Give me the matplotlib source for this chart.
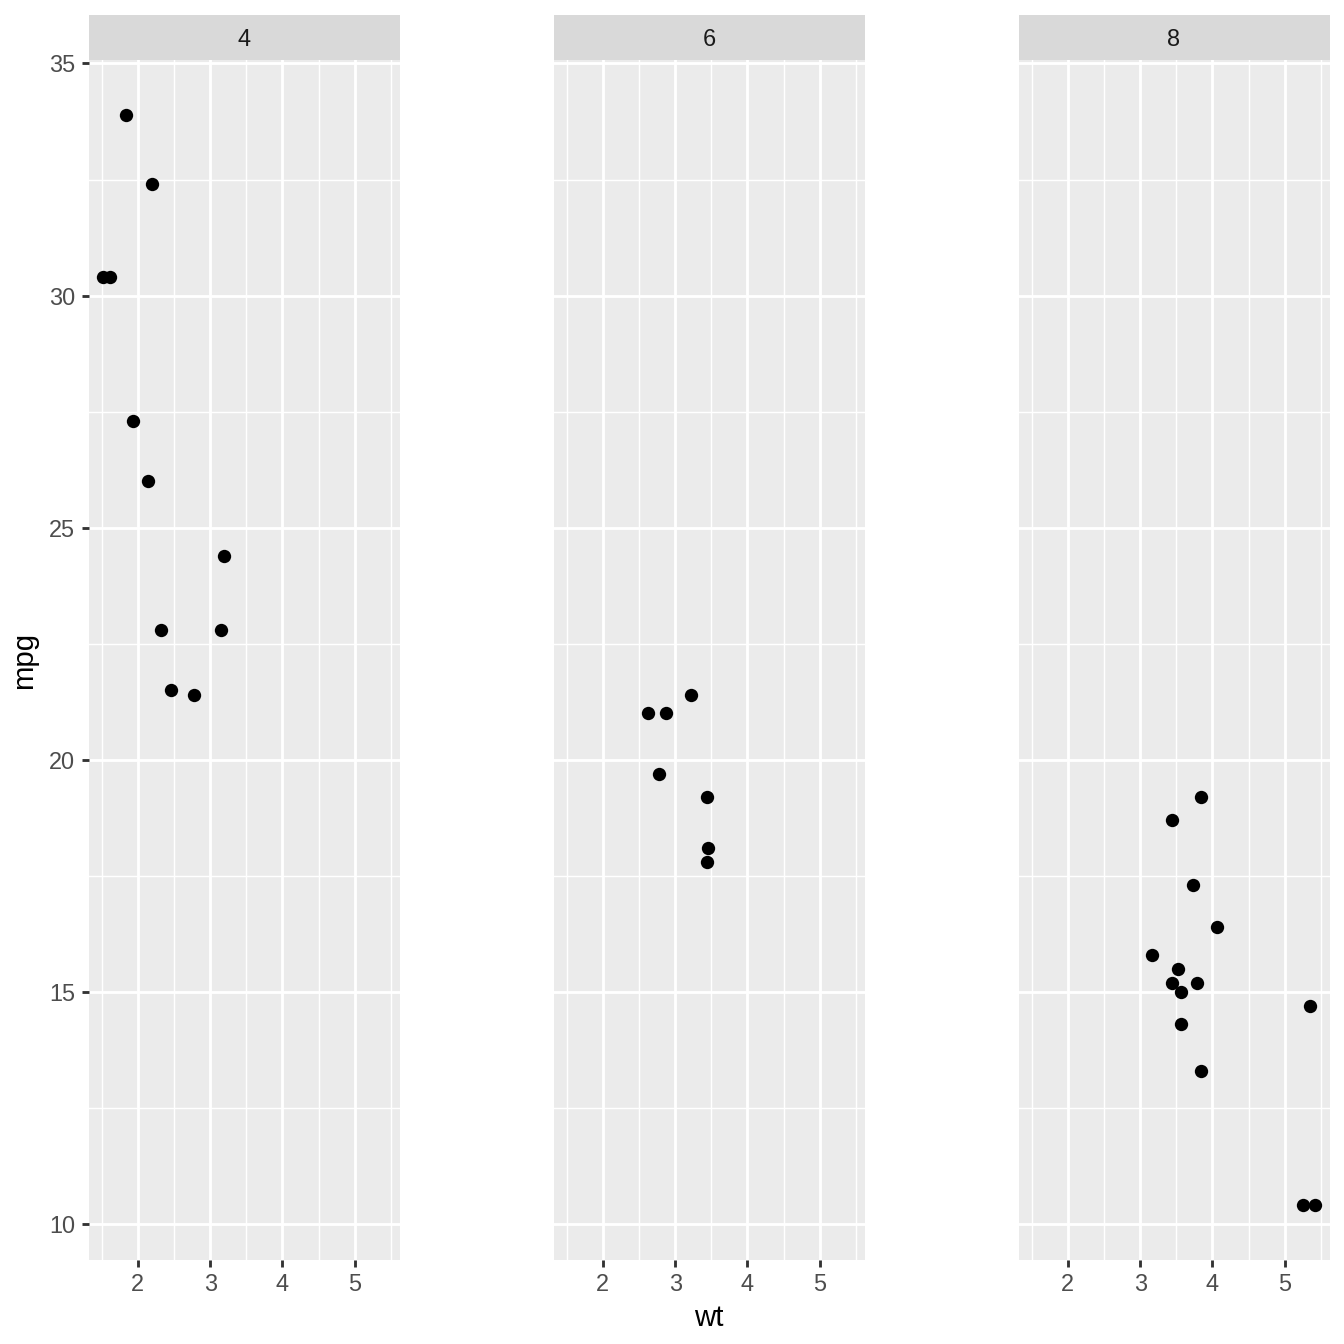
import numpy as np
import matplotlib
matplotlib.use('Agg')
from matplotlib import pyplot as plt

plt.rcParams['font.family'] = ['Liberation Sans', 'DejaVu Sans']

# mtcars, split by cyl
cyl_levels = ['4', '6', '8']
wt_4 = [2.320, 3.190, 3.150, 2.200, 1.615, 1.835, 2.465, 1.935, 2.140, 1.513, 2.780]
mpg_4 = [22.8, 24.4, 22.8, 32.4, 30.4, 33.9, 21.5, 27.3, 26.0, 30.4, 21.4]
wt_6 = [2.620, 2.875, 3.215, 3.460, 3.440, 3.440, 2.770]
mpg_6 = [21.0, 21.0, 21.4, 18.1, 19.2, 17.8, 19.7]
wt_8 = [3.440, 3.570, 4.070, 3.730, 3.780, 5.250, 5.424, 5.345, 3.520, 3.435, 3.840, 3.845, 3.170, 3.570]
mpg_8 = [18.7, 14.3, 16.4, 17.3, 15.2, 10.4, 10.4, 14.7, 15.5, 15.2, 13.3, 19.2, 15.8, 15.0]

x_ticks = [2, 3, 4, 5]
x_minor = [1.5, 2.5, 3.5, 4.5, 5.5]
y_ticks = [10, 15, 20, 25, 30, 35]
y_minor = [12.5, 17.5, 22.5, 27.5, 32.5]

groups = [(wt_4, mpg_4), (wt_6, mpg_6), (wt_8, mpg_8)]
all_wt = wt_4 + wt_6 + wt_8
all_mpg = mpg_4 + mpg_6 + mpg_8

def expand(vals):
    lo, hi = min(vals), max(vals)
    pad = (hi - lo) * 0.05
    return lo - pad, hi + pad

xlim = expand(all_wt)
ylim = expand(all_mpg)

W = 1344.0
fig = plt.figure(figsize=(7, 7), dpi=192)

lefts = [88.5, 553.5, 1018.5]
pw = 311.0
top, bottom = 60.0, 1260.0
strip_top = 15.0

for i, (lab, (wt, mpg)) in enumerate(zip(cyl_levels, groups)):
    ax = fig.add_axes([lefts[i] / W, (W - bottom) / W, pw / W, (bottom - top) / W])
    ax.set_facecolor('#EBEBEB')
    for s in ax.spines.values():
        s.set_visible(False)
    ax.set_xlim(*xlim)
    ax.set_ylim(*ylim)
    ax.set_xticks(x_ticks)
    ax.set_yticks(y_ticks)
    ax.set_xticks(x_minor, minor=True)
    ax.set_yticks(y_minor, minor=True)
    ax.grid(True, which='major', color='white', linewidth=1.07)
    ax.grid(True, which='minor', color='white', linewidth=0.53)
    ax.set_axisbelow(True)
    ax.tick_params(which='major', length=2.75, width=1.07, color='#333333',
                   labelcolor='#4D4D4D', labelsize=8.8, pad=2.2)
    ax.tick_params(which='minor', length=0)
    if i > 0:
        ax.tick_params(axis='y', which='major', length=0, labelleft=False)
    ax.plot(wt, mpg, 'o', color='black', markersize=5.0, markeredgewidth=0)

    sax = fig.add_axes([lefts[i] / W, (W - top) / W, pw / W, (top - strip_top) / W])
    sax.set_facecolor('#D9D9D9')
    sax.set_xticks([])
    sax.set_yticks([])
    for s in sax.spines.values():
        s.set_visible(False)
    sax.text(0.5, 0.45, lab, ha='center', va='center', fontsize=8.8,
             color='#1A1A1A', transform=sax.transAxes)

    if i == 1:
        ax.set_xlabel('wt', fontsize=11, labelpad=3)
    if i == 0:
        ax.set_ylabel('mpg', fontsize=11, labelpad=4)

fig.savefig('out.png', dpi=192)
